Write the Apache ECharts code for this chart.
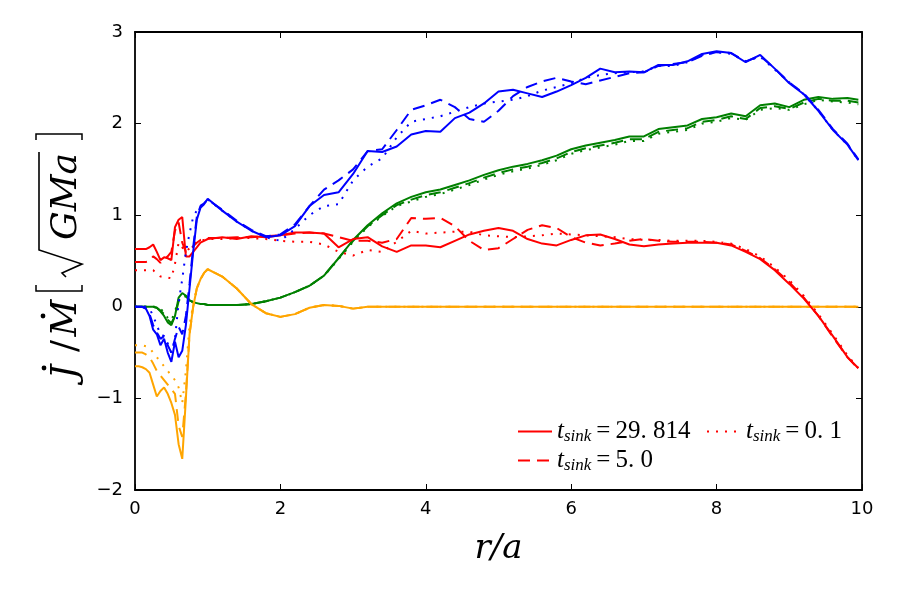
<!DOCTYPE html>
<html>
<head>
<meta charset="utf-8">
<script src="https://cdn.jsdelivr.net/npm/echarts@6/dist/echarts.min.js"></script>
<style>html,body{margin:0;padding:0;background:#fff}#c{width:900px;height:600px}</style>
</head>
<body>
<div id="c"></div>
<script>
// radius grid r/a
const R = [0,0.05,0.1,0.15,0.2,0.25,0.3,0.35,0.4,0.45,0.5,0.55,0.6,0.65,0.7,0.75,0.8,0.85,0.9,0.95,1.0,
  1.2,1.4,1.6,1.8,2.0,2.2,2.4,2.6,2.8,3.0,
  3.2,3.4,3.6,3.8,4.0,4.2,4.4,4.6,4.8,5.0,
  5.2,5.4,5.6,5.8,6.0,6.2,6.4,6.6,6.8,7.0,
  7.2,7.4,7.6,7.8,8.0,8.2,8.4,8.6,8.8,9.0,
  9.2,9.4,9.6,9.8,9.95];

// red (total), t_sink = 29.814 / 5.0 / 0.1
const redSolid = [0.63,0.63,0.63,0.63,0.65,0.68,0.6,0.51,0.54,0.53,0.51,0.87,0.95,0.98,0.55,0.55,0.6,0.65,0.7,0.72,0.74,
  0.76,0.74,0.77,0.76,0.78,0.81,0.81,0.8,0.65,0.74,
  0.76,0.66,0.6,0.67,0.67,0.65,0.72,0.79,0.83,0.86,
  0.83,0.74,0.69,0.67,0.73,0.78,0.79,0.74,0.68,0.66,
  0.68,0.69,0.7,0.7,0.7,0.67,0.6,0.52,0.4,0.25,
  0.09,-0.1,-0.32,-0.55,-0.67];
const redDashed = [0.49,0.49,0.49,0.49,0.5,0.55,0.52,0.48,0.52,0.55,0.6,0.83,0.92,0.7,0.6,0.62,0.66,0.7,0.73,0.74,0.75,
  0.75,0.76,0.76,0.77,0.78,0.8,0.81,0.8,0.76,0.72,
  0.72,0.7,0.74,0.97,0.96,0.97,0.88,0.72,0.62,0.64,
  0.74,0.84,0.89,0.86,0.76,0.7,0.67,0.69,0.72,0.74,
  0.72,0.71,0.71,0.71,0.7,0.68,0.61,0.53,0.41,0.27,
  0.1,-0.1,-0.33,-0.55,-0.68];
const redDotted = [0.4,0.4,0.4,0.4,0.4,0.4,0.36,0.33,0.33,0.32,0.31,0.47,0.7,0.65,0.6,0.64,0.68,0.71,0.72,0.73,0.74,
  0.74,0.75,0.75,0.74,0.72,0.71,0.71,0.68,0.6,0.56,
  0.62,0.6,0.71,0.83,0.8,0.81,0.82,0.82,0.78,0.77,
  0.76,0.77,0.78,0.8,0.79,0.78,0.77,0.76,0.74,0.73,
  0.73,0.72,0.72,0.72,0.71,0.69,0.63,0.55,0.43,0.29,
  0.12,-0.08,-0.3,-0.53,-0.67];

// blue
const blueSolid = [0,0,0,-0.02,-0.1,-0.25,-0.3,-0.42,-0.35,-0.5,-0.6,-0.38,-0.55,-0.48,-0.2,0.2,0.6,0.95,1.08,1.12,1.18,
  1.05,0.93,0.83,0.76,0.78,0.88,1.1,1.22,1.25,1.45,
  1.7,1.69,1.75,1.88,1.92,1.91,2.06,2.12,2.22,2.35,
  2.37,2.33,2.29,2.35,2.42,2.5,2.6,2.56,2.57,2.56,
  2.64,2.64,2.68,2.76,2.79,2.77,2.67,2.75,2.6,2.44,
  2.32,2.14,1.93,1.77,1.6];
const blueDashed = [0,0,0,-0.02,-0.08,-0.2,-0.28,-0.35,-0.32,-0.42,-0.5,-0.35,-0.22,-0.3,-0.1,0.25,0.65,0.98,1.1,1.13,1.17,
  1.06,0.94,0.84,0.77,0.79,0.9,1.1,1.28,1.38,1.5,
  1.7,1.72,1.93,2.15,2.2,2.26,2.18,2.05,2.02,2.14,
  2.3,2.4,2.46,2.5,2.46,2.43,2.47,2.51,2.55,2.56,
  2.63,2.65,2.67,2.74,2.78,2.77,2.68,2.74,2.6,2.45,
  2.33,2.15,1.94,1.78,1.61];
const blueDotted = [0,0,0,0,-0.02,-0.1,-0.2,-0.3,-0.32,-0.4,-0.5,-0.35,0.05,0.3,0.6,0.8,0.98,1.05,1.1,1.13,1.17,
  1.05,0.93,0.83,0.76,0.72,0.85,1.0,1.1,1.12,1.38,
  1.53,1.62,1.85,2.02,2.05,2.08,2.13,2.18,2.22,2.24,
  2.26,2.3,2.36,2.4,2.44,2.5,2.53,2.55,2.56,2.57,
  2.63,2.63,2.67,2.75,2.78,2.76,2.68,2.73,2.59,2.45,
  2.32,2.14,1.93,1.77,1.6];

// green
const greenSolid = [0,0,0,0,0,0,-0.01,-0.05,-0.1,-0.17,-0.2,-0.1,0.1,0.15,0.12,0.07,0.05,0.04,0.03,0.03,0.02,
  0.02,0.02,0.03,0.06,0.1,0.16,0.23,0.34,0.53,0.73,
  0.89,1.02,1.13,1.2,1.25,1.28,1.33,1.38,1.44,1.49,
  1.53,1.56,1.6,1.65,1.72,1.76,1.79,1.82,1.86,1.86,
  1.94,1.96,1.98,2.05,2.07,2.11,2.08,2.2,2.22,2.18,
  2.26,2.29,2.27,2.28,2.26];
const greenDashed = [0,0,0,0,0,0,-0.01,-0.04,-0.08,-0.14,-0.18,-0.1,0.06,0.13,0.12,0.07,0.05,0.04,0.03,0.03,0.02,
  0.02,0.02,0.03,0.06,0.1,0.16,0.23,0.34,0.53,0.72,
  0.88,1.0,1.11,1.17,1.22,1.25,1.3,1.35,1.41,1.46,
  1.5,1.53,1.57,1.62,1.69,1.73,1.76,1.79,1.83,1.83,
  1.91,1.93,1.95,2.02,2.04,2.08,2.05,2.17,2.19,2.16,
  2.23,2.27,2.25,2.25,2.23];
const greenDotted = [0,0,0,0,0,0,0,-0.02,-0.06,-0.12,-0.15,-0.05,0.08,0.12,0.11,0.07,0.05,0.04,0.03,0.03,0.02,
  0.02,0.02,0.03,0.06,0.1,0.16,0.23,0.34,0.52,0.71,
  0.87,0.99,1.1,1.15,1.2,1.23,1.28,1.33,1.39,1.44,
  1.48,1.51,1.55,1.6,1.67,1.71,1.74,1.77,1.81,1.81,
  1.89,1.91,1.93,2.0,2.02,2.06,2.04,2.15,2.17,2.15,
  2.21,2.26,2.24,2.23,2.21];

// orange
const orangeSolid = [-0.65,-0.65,-0.66,-0.68,-0.72,-0.85,-0.98,-0.92,-0.88,-0.95,-1.05,-1.18,-1.5,-1.66,-1.0,-0.3,0.0,0.2,0.3,0.37,0.41,
  0.33,0.2,0.03,-0.07,-0.11,-0.08,-0.01,0.02,0.01,-0.02,
  0,0,0,0,0,0,0,0,0,0,
  0,0,0,0,0,0,0,0,0,0,
  0,0,0,0,0,0,0,0,0,0,
  0,0,0,0,0];
const orangeDashed = [-0.5,-0.5,-0.5,-0.52,-0.55,-0.62,-0.7,-0.75,-0.8,-0.85,-0.9,-0.95,-1.3,-1.42,-0.95,-0.3,0.0,0.2,0.3,0.37,0.41,
  0.33,0.2,0.03,-0.07,-0.11,-0.08,-0.01,0.02,0.01,-0.02,
  0,0,0,0,0,0,0,0,0,0,
  0,0,0,0,0,0,0,0,0,0,
  0,0,0,0,0,0,0,0,0,0,
  0,0,0,0,0];
const orangeDotted = [-0.42,-0.42,-0.42,-0.43,-0.45,-0.5,-0.55,-0.6,-0.65,-0.7,-0.75,-0.8,-0.88,-1.05,-0.7,-0.2,0.02,0.2,0.3,0.37,0.41,
  0.33,0.2,0.03,-0.07,-0.11,-0.08,-0.01,0.02,0.01,-0.02,
  0,0,0,0,0,0,0,0,0,0,
  0,0,0,0,0,0,0,0,0,0,
  0,0,0,0,0,0,0,0,0,0,
  0,0,0,0,0];

const xTicks = [0, 10, 2];   // min, max, step
const yTicks = [-2, 3, 1];
const legendLabels = {
  redSolid: '29. 814',
  redDashed: '5. 0',
  redDotted: '0. 1'
};

const DASH = [12, 7];
const DOT = [2, 7];
function mk(name, color, type, vals, z) {
  return {
    type: 'line', name: name,
    data: R.map((r, i) => [r, vals[i]]),
    showSymbol: false, symbol: 'none',
    lineStyle: { color: color, width: 2, type: type, cap: 'butt' },
    itemStyle: { color: color },
    z: z
  };
}
const series = [
  mk('greenSolid', '#008000', 'solid', greenSolid, 2),
  mk('greenDashed', '#008000', DASH, greenDashed, 2),
  mk('greenDotted', '#008000', DOT, greenDotted, 2),
  mk('orangeSolid', '#ffa500', 'solid', orangeSolid, 2),
  mk('orangeDashed', '#ffa500', DASH, orangeDashed, 2),
  mk('orangeDotted', '#ffa500', DOT, orangeDotted, 2),
  mk('redSolid', '#ff0000', 'solid', redSolid, 3),
  mk('redDashed', '#ff0000', DASH, redDashed, 3),
  mk('redDotted', '#ff0000', DOT, redDotted, 3),
  mk('blueSolid', '#0000ff', 'solid', blueSolid, 4),
  mk('blueDashed', '#0000ff', DASH, blueDashed, 4),
  mk('blueDotted', '#0000ff', DOT, blueDotted, 4)
];

const SERIF = 'DejaVu Serif';
const LSERIF = 'Liberation Serif';
const legRich = {
  t: { fontFamily: LSERIF, fontStyle: 'italic', fontSize: 25, color: '#000', lineHeight: 26 },
  s: { fontFamily: LSERIF, fontStyle: 'italic', fontSize: 17, color: '#000', padding: [10, 0, 0, 0], lineHeight: 26 },
  e: { fontFamily: LSERIF, fontSize: 25, color: '#000', lineHeight: 26 }
};
function legFmt(name) {
  return '{t|t}{s|sink}{e|\u2009=\u2009' + legendLabels[name] + '}';
}
const legBase = {
  orient: 'vertical', itemWidth: 34, itemHeight: 14, itemGap: 2,
  formatter: legFmt, textStyle: { rich: legRich },
  itemStyle: { opacity: 0 },
  selectedMode: false
};

const axisLine = { show: true, onZero: false, lineStyle: { color: '#000', width: 1.8 } };
const axisTick = { show: true, inside: true, length: 6, lineStyle: { color: '#000', width: 1 } };
const fmtNum = v => String(v).replace('-', '\u2212');

const option = {
  animation: false,
  backgroundColor: '#fff',
  grid: { left: 135, right: 38, top: 32, bottom: 110, containLabel: false },
  xAxis: [
    { type: 'value', min: xTicks[0], max: xTicks[1], interval: xTicks[2], position: 'bottom',
      axisLine: axisLine, axisTick: axisTick, splitLine: { show: false },
      axisLabel: { color: '#000', fontSize: 18, fontFamily: 'DejaVu Sans', margin: 10, formatter: fmtNum },
      name: 'r/a', nameLocation: 'middle', nameGap: 42,
      nameTextStyle: { fontFamily: SERIF, fontStyle: 'italic', fontSize: 34, color: '#000' } },
    { type: 'value', min: xTicks[0], max: xTicks[1], interval: xTicks[2], position: 'top',
      axisLine: axisLine, axisTick: axisTick, splitLine: { show: false }, axisLabel: { show: false } }
  ],
  yAxis: [
    { type: 'value', min: yTicks[0], max: yTicks[1], interval: yTicks[2], position: 'left',
      axisLine: axisLine, axisTick: axisTick, splitLine: { show: false },
      axisLabel: { color: '#000', fontSize: 18, fontFamily: 'DejaVu Sans', margin: 12, formatter: fmtNum } },
    { type: 'value', min: yTicks[0], max: yTicks[1], interval: yTicks[2], position: 'right',
      axisLine: axisLine, axisTick: axisTick, splitLine: { show: false }, axisLabel: { show: false } }
  ],
  legend: [
    Object.assign({}, legBase, { left: 512, top: 413, data: ['redSolid', 'redDashed'] }),
    Object.assign({}, legBase, { left: 701, top: 413, data: ['redDotted'] })
  ],
  graphic: [{
    type: 'group', x: 58, y: 260, rotation: Math.PI / 2,
    children: [
      { type: 'text', x: -112, y: 27, style: { text: 'J', font: 'italic 36px "DejaVu Serif"', fill: '#000', align: 'center', verticalAlign: 'bottom' } },
      { type: 'circle', shape: { cx: -108, cy: -14, r: 2.4 }, style: { fill: '#000' } },
      { type: 'text', x: -86, y: 27, style: { text: '/', font: '36px "DejaVu Serif"', fill: '#000', align: 'center', verticalAlign: 'bottom' } },
      { type: 'text', x: -58, y: 27, style: { text: 'M', font: 'italic 36px "DejaVu Serif"', fill: '#000', align: 'center', verticalAlign: 'bottom' } },
      { type: 'circle', shape: { cx: -56, cy: -15, r: 2.4 }, style: { fill: '#000' } },
      { type: 'polyline', shape: { points: [[-25, -22], [-31, -22], [-31, 24], [-25, 24]] }, style: { stroke: '#000', lineWidth: 1.5, fill: null } },
      { type: 'polyline', shape: { points: [[-17, 8], [-13, 4], [-4, 24], [10, -19], [108, -19]] }, style: { stroke: '#000', lineWidth: 1.6, fill: null } },
      { type: 'text', x: 20, y: 27, style: { text: 'GMa', font: 'italic 36px "DejaVu Serif"', fill: '#000', align: 'left', verticalAlign: 'bottom' } },
      { type: 'polyline', shape: { points: [[120, -22], [126, -22], [126, 24], [120, 24]] }, style: { stroke: '#000', lineWidth: 1.5, fill: null } }
    ]
  }],
  series: series
};

const chart = echarts.init(document.getElementById('c'), null, { renderer: 'canvas' });
chart.setOption(option);
</script>
</body>
</html>
